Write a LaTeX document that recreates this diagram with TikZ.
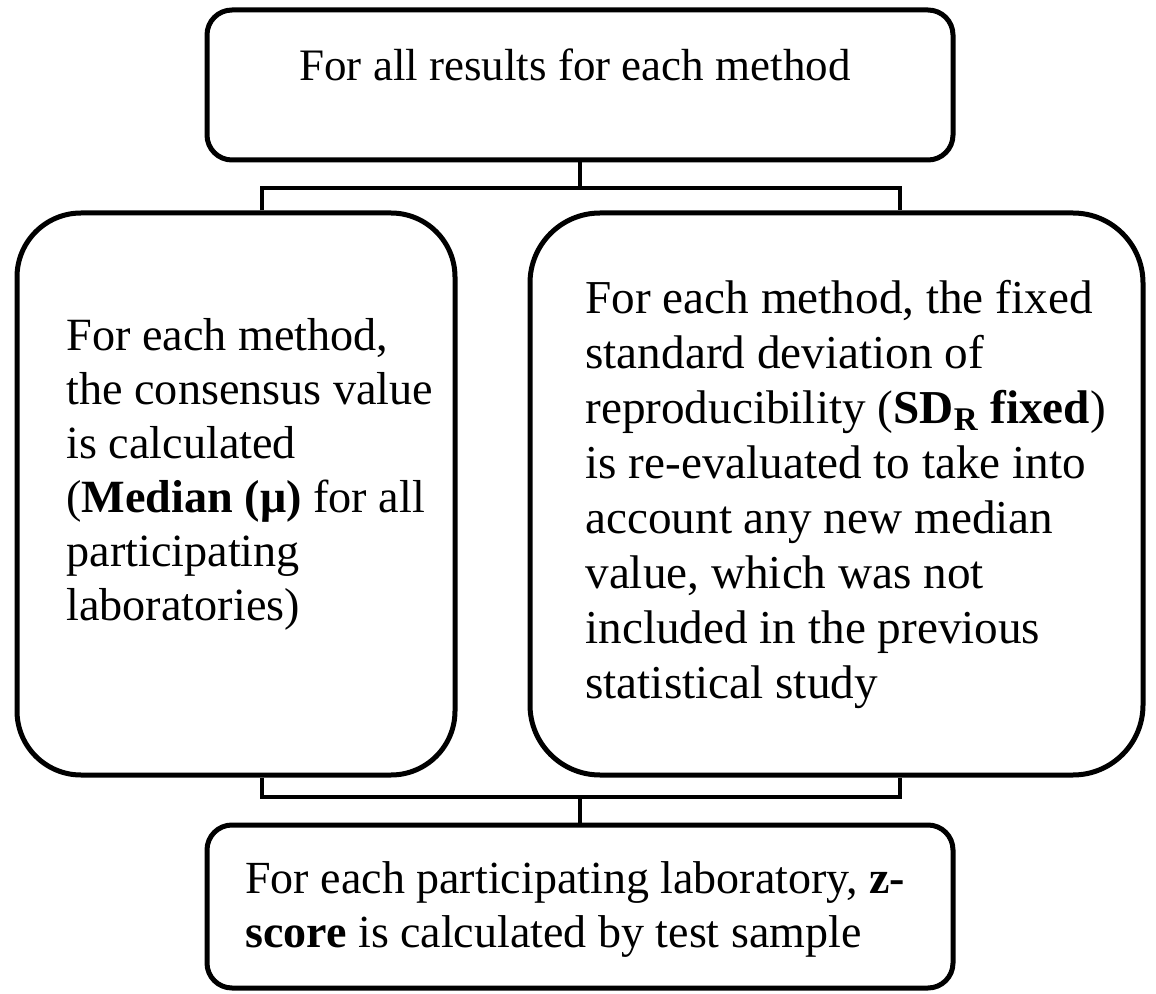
\documentclass[tikz,border=0pt]{standalone}
\usepackage{fontspec}
\setmainfont{Liberation Serif}
\begin{document}
\begin{tikzpicture}[x=0.5pt,y=-0.5pt,
  box/.style={draw, line width=2.5pt, rectangle, inner sep=0pt},
  conn/.style={line width=2pt},
  txt/.style={font=\fontsize{23.6}{27.5}\selectfont, align=left, inner sep=0pt},
  txtl/.style={font=\fontsize{23.1}{27}\selectfont, align=left, inner sep=0pt},
  txts/.style={font=\fontsize{22.5}{27}\selectfont, align=left, inner sep=0pt},
  txtb/.style={font=\fontsize{23}{27}\selectfont, align=left, inner sep=0pt}]
\useasboundingbox (0,0) rectangle (1156,994);
% boxes
\node[box, rounded corners=12.5pt, minimum width=373pt, minimum height=75pt] (top) at (580,85) {};
\node[box, rounded corners=32pt, minimum width=219pt, minimum height=281pt] (left) at (236,494) {};
\node[box, rounded corners=35pt, minimum width=306.5pt, minimum height=281pt] (right) at (836.5,494) {};
\node[box, rounded corners=12.5pt, minimum width=373pt, minimum height=81.5pt] (bot) at (580,906.5) {};
% texts
\node[txts] (ttop) at (575,65) {For all results for each method};
\node[txtl, anchor=west] (tleft) at (66,474) {For each method,\\the consensus value\\is calculated\\(\textbf{Median (μ)} for all\\participating\\laboratories)};
\node[txt, anchor=west] (tright) at (585,494) {For each method, the fixed\\standard deviation of\\reproducibility (\textbf{SD\textsubscript{R} fixed})\\is re-evaluated to take into\\account any new median\\value, which was not\\included in the previous\\statistical study};
\node[txtb, anchor=west] (tbot) at (245,909) {For each participating laboratory, \textbf{z-}\\\textbf{score} is calculated by test sample};
% connectors
\coordinate (bt) at (580,188);
\coordinate (btl) at (262,188);
\coordinate (btr) at (900,188);
\draw[conn] (top.south) -- (bt);
\draw[conn] (btl |- left.north) -- (btl) -- (btr) -- (btr |- right.north);
\coordinate (bb) at (580,797);
\coordinate (bbl) at (262,797);
\coordinate (bbr) at (900,797);
\draw[conn] (bbl |- left.south) -- (bbl) -- (bbr) -- (bbr |- right.south);
\draw[conn] (bb) -- (bot.north);
\end{tikzpicture}
\end{document}
